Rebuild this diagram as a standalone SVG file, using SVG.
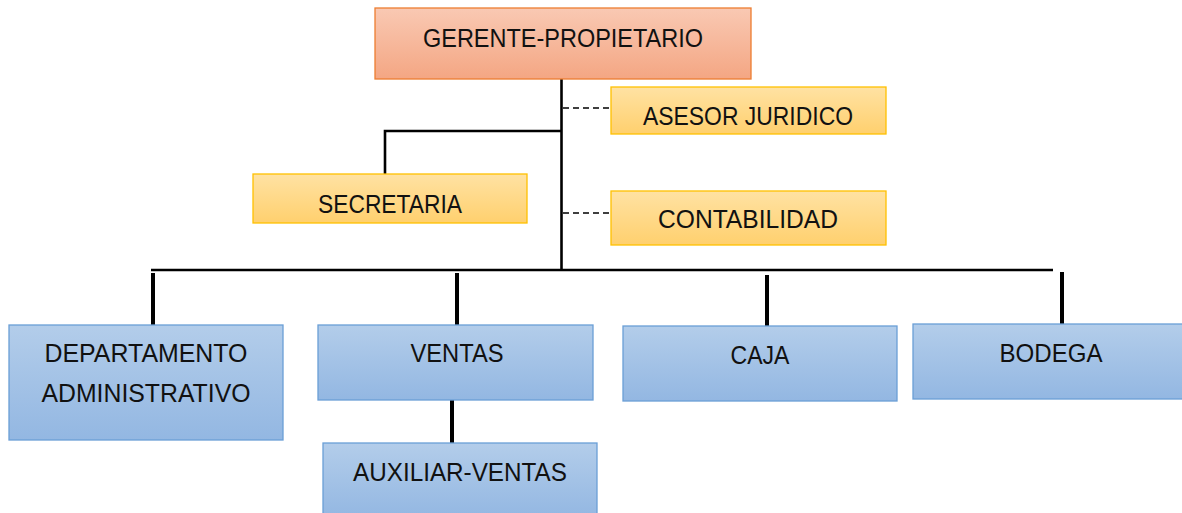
<svg xmlns="http://www.w3.org/2000/svg" width="1182" height="513" viewBox="0 0 1182 513">
<defs>
<linearGradient id="gO" x1="0" y1="0" x2="0" y2="1"><stop offset="0" stop-color="#f9c9b3"/><stop offset="1" stop-color="#f4a683"/></linearGradient>
<linearGradient id="gY" x1="0" y1="0" x2="0" y2="1"><stop offset="0" stop-color="#ffe2a3"/><stop offset="1" stop-color="#ffd06e"/></linearGradient>
<linearGradient id="gB" x1="0" y1="0" x2="0" y2="1"><stop offset="0" stop-color="#b3cdea"/><stop offset="1" stop-color="#93b7e2"/></linearGradient>
<style>
.o{fill:url(#gO);stroke:#ed7d31;stroke-width:1.3}
.y{fill:url(#gY);stroke:#ffc000;stroke-width:1.3}
.b{fill:url(#gB);stroke:#6a9fd6;stroke-width:1.3}
text{font-family:"Liberation Sans",Arial,sans-serif;font-size:25px;fill:#111;text-anchor:middle}
.ln{stroke:#000;stroke-width:2.6;fill:none}
.th{stroke:#000;stroke-width:4;fill:none}
.ds{stroke:#000;stroke-width:1.6;stroke-dasharray:6 4;fill:none}
</style>
</defs>
<g id="connectors">
<line class="ln" x1="561.5" y1="79" x2="561.5" y2="271"/>
<line class="ds" x1="563" y1="108" x2="611" y2="108"/>
<line class="ds" x1="563" y1="213" x2="611" y2="213"/>
<polyline class="ln" points="561,131 385,131 385,174"/>
<line class="ln" x1="151" y1="270" x2="1053" y2="270"/>
<line class="th" x1="153" y1="273" x2="153" y2="325"/>
<line class="th" x1="457" y1="273" x2="457" y2="325"/>
<line class="th" x1="767" y1="275" x2="767" y2="326"/>
<line class="th" x1="1062" y1="272" x2="1062" y2="324"/>
<line class="th" x1="452" y1="400" x2="452" y2="443"/>
</g>
<g id="gerente"><rect class="o" x="375" y="8" width="376" height="71"/><text x="563" y="47" textLength="280" lengthAdjust="spacingAndGlyphs">GERENTE-PROPIETARIO</text></g>
<g id="asesor"><rect class="y" x="611" y="87" width="275" height="47"/><text x="748" y="125" textLength="210" lengthAdjust="spacingAndGlyphs">ASESOR JURIDICO</text></g>
<g id="secretaria"><rect class="y" x="253" y="174" width="274" height="49"/><text x="390" y="213" textLength="144" lengthAdjust="spacingAndGlyphs">SECRETARIA</text></g>
<g id="contabilidad"><rect class="y" x="611" y="191" width="275" height="54"/><text x="748" y="228" textLength="180" lengthAdjust="spacingAndGlyphs">CONTABILIDAD</text></g>
<g id="departamento"><rect class="b" x="9" y="325" width="274" height="115"/><text x="146" y="362" textLength="203" lengthAdjust="spacingAndGlyphs">DEPARTAMENTO</text><text x="146" y="402" textLength="209" lengthAdjust="spacingAndGlyphs">ADMINISTRATIVO</text></g>
<g id="ventas"><rect class="b" x="318" y="325" width="275" height="75"/><text x="457" y="362" textLength="93" lengthAdjust="spacingAndGlyphs">VENTAS</text></g>
<g id="auxiliar"><rect class="b" x="323" y="443" width="274" height="75"/><text x="460" y="481" textLength="214" lengthAdjust="spacingAndGlyphs">AUXILIAR-VENTAS</text></g>
<g id="caja"><rect class="b" x="623" y="326" width="274" height="75"/><text x="760" y="364" textLength="59" lengthAdjust="spacingAndGlyphs">CAJA</text></g>
<g id="bodega"><rect class="b" x="913" y="324" width="275" height="75"/><text x="1051" y="362" textLength="103" lengthAdjust="spacingAndGlyphs">BODEGA</text></g>
</svg>
